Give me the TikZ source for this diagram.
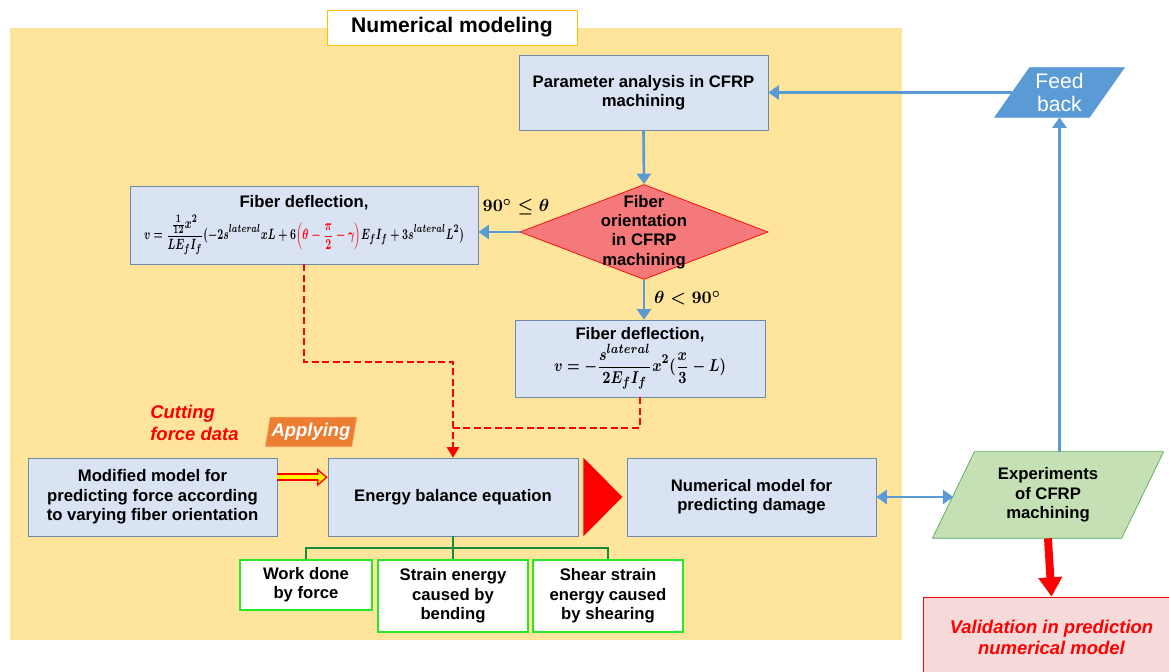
\documentclass[tikz,border=0pt]{standalone}
\usepackage{amsmath}
\usepackage[no-math]{fontspec}
\setmainfont{Liberation Sans}
\usetikzlibrary{arrows.meta,calc,shapes.geometric}

\definecolor{modelbg}{RGB}{255,229,155}
\definecolor{boxfill}{RGB}{218,227,243}
\definecolor{boxline}{RGB}{112,136,170}
\definecolor{flowblue}{RGB}{91,155,213}
\definecolor{gold}{RGB}{255,192,0}
\definecolor{diamfill}{RGB}{245,120,122}
\definecolor{expfill}{RGB}{197,224,180}
\definecolor{expline}{RGB}{84,170,90}
\definecolor{valfill}{RGB}{246,218,218}
\definecolor{applyfill}{RGB}{237,125,49}
\definecolor{applyline}{RGB}{246,178,120}
\definecolor{leafline}{RGB}{40,230,40}
\definecolor{treeline}{RGB}{20,140,60}

\newcommand{\leftformula}{{\boldmath\resizebox*{6.4cm}{0.8cm}{$\displaystyle v = \frac{\frac{1}{12}x^2}{LE_fI_f}(-2s^{lateral}xL + 6{\color{red}\left(\theta - \frac{\pi}{2} - \gamma\right)}E_fI_f + 3s^{lateral}L^2)$}}}
\newcommand{\rightformula}{{\boldmath\resizebox*{3.44cm}{0.9cm}{$\displaystyle v = -\frac{s^{lateral}}{2E_fI_f}x^2(\frac{x}{3} - L)$}}}

\begin{document}
\begin{tikzpicture}[font = \fontsize{9.5}{11}\selectfont\bfseries,
        box/.style = {draw = boxline, fill = boxfill, align = center, minimum width = 4.98cm, minimum height = 1.56cm, inner sep = 2pt},
        leaf/.style = {draw = leafline, line width = 1pt, fill = white, align = center, inner sep = 1pt},
        flow/.style = {flowblue, line width = 1.5pt, -{Triangle[length = 6pt, width = 8pt]}},
        dashline/.style = {red, line width = 1pt, dash pattern = on 4pt off 2pt}]
        \useasboundingbox (0,0) rectangle (23.38,13.42);
        \clip (0,0) rectangle (23.38,13.42);

        \fill [modelbg] (0.2,0.62) rectangle (18.04,12.86);
        \node [draw = gold, fill = white, minimum width = 5cm, minimum height = 0.7cm, font = \fontsize{12}{14}\selectfont\bfseries] (title) at (9.04,12.87) {Numerical modeling};

        \node [box, minimum height = 1.5cm] (param) at (12.87,11.57) {Parameter analysis in CFRP\\machining};

        \node [minimum width = 1.88cm, minimum height = 0.98cm, inner sep = 0pt] (feedback) at (21.19,11.57) {};
        \filldraw [fill = flowblue, draw = flowblue] ([xshift = -0.35cm]feedback.south west) -- ([xshift = 0.35cm]feedback.north west) -- ([xshift = 0.35cm]feedback.north east) -- ([xshift = -0.35cm]feedback.south east) -- cycle;
        \node [text = white, align = center, font = \fontsize{12}{13.5}\selectfont] at (feedback) {Feed\\back};

        \node [diamond, draw = red, fill = diamfill, minimum width = 4.96cm, minimum height = 1.9cm, inner sep = 0pt] (orient) at (12.88,8.78) {};
        \node [align = center] at (orient) {Fiber\\orientation\\in CFRP\\machining};

        \node [box, minimum width = 6.96cm, inner sep = 1pt] (leftdef) at (6.08,8.92) {Fiber deflection,\\[2pt]\leftformula};
        \node [box, minimum width = 5cm, minimum height = 1.54cm, inner sep = 1pt] (rightdef) at (12.8,6.25) {Fiber deflection,\\\rightformula};

        \node [font = \fontsize{10}{12}\selectfont] (lblge) at (10.32,9.28) {{\boldmath$90^\circ \leq \theta$}};
        \node [font = \fontsize{10}{12}\selectfont] (lbllt) at (13.75,7.46) {{\boldmath$\theta < 90^\circ$}};

        \node [text = red, align = left, anchor = west, inner sep = 0pt, font = \fontsize{10.5}{12.4}\selectfont\bfseries\itshape] (cutting) at (3.0,4.96) {Cutting\\force data};
        \node [minimum width = 1.72cm, minimum height = 0.58cm, inner sep = 0pt] (apply) at (6.22,4.78) {};
        \filldraw [fill = applyfill, draw = applyline] ([xshift = -0.05cm]apply.south west) -- ([xshift = 0.05cm]apply.north west) -- ([xshift = 0.05cm]apply.north east) -- ([xshift = -0.05cm]apply.south east) -- cycle;
        \node [text = white, font = \fontsize{10.5}{12}\selectfont\bfseries\itshape] at (apply) {Applying};

        \node [box] (modified) at (3.05,3.48) {Modified model for\\predicting force according\\to varying fiber orientation};
        \node [box, minimum width = 5cm] (energy) at (9.06,3.48) {Energy balance equation};
        \node [box] (numerical) at (15.03,3.48) {Numerical model for\\predicting damage};

        \node [minimum width = 3.77cm, minimum height = 1.72cm, inner sep = 0pt] (experiments) at (20.96,3.52) {};
        \filldraw [fill = expfill, draw = expline] ([xshift = -0.42cm]experiments.south west) -- ([xshift = 0.42cm]experiments.north west) -- ([xshift = 0.42cm]experiments.north east) -- ([xshift = -0.42cm]experiments.south east) -- cycle;
        \node [align = center] at (experiments) {Experiments\\of CFRP\\machining};

        \node [draw = red, fill = valfill, minimum width = 5.14cm, minimum height = 1.6cm, align = center, text = red, font = \fontsize{10.5}{12}\selectfont\bfseries\itshape] (valid) at (21.03,0.68) {Validation in prediction\\numerical model};

        \node [leaf, minimum width = 2.64cm, minimum height = 1cm] (work) at (6.12,1.72) {Work done\\by force};
        \node [leaf, minimum width = 3cm, minimum height = 1.44cm] (strain) at (9.06,1.5) {Strain energy\\caused by\\bending};
        \node [leaf, minimum width = 3cm, minimum height = 1.44cm] (shear) at (12.16,1.5) {Shear strain\\energy caused\\by shearing};

        \coordinate (split) at (9.06,2.46);
        \draw [treeline, line width = 1pt] (energy.south) -- (strain.north);
        \draw [treeline, line width = 1pt] (work.north) |- (split) -| (shear.north);

        \draw [flow] (feedback.west) -- (param.east);
        \draw [flow] (feedback.south |- experiments.north) -- (feedback.south);
        \draw [flow] (param.south) -- (orient.north);
        \draw [flow] (orient.west) -- (orient.west -| leftdef.east);
        \draw [flow] (orient.south) -- (orient.south |- rightdef.north);
        \draw [flowblue, line width = 1.5pt, {Triangle[length = 6pt, width = 8pt]}-{Triangle[length = 6pt, width = 8pt]}] (numerical.east) -- (numerical.east -| experiments.west);
        \draw [red, line width = 4.5pt, -{Triangle[length = 11pt, width = 13pt]}] (experiments.south) -- (valid.north);

        \coordinate (leftbend) at (9.06,6.18);
        \coordinate (rightbend) at (9.06,4.86);
        \draw [dashline, -{Triangle[length = 6pt, width = 7pt]}] (leftdef.south) |- (leftbend) -- (energy.north);
        \draw [dashline] (rightdef.south) |- (rightbend);

        \draw [red, line width = 4.5pt, -{Triangle[length = 6pt, width = 10pt]}] ($(modified.north east)!0.25!(modified.south east)$) -- ($(energy.north west)!0.25!(energy.south west)$);
        \draw [yellow, line width = 2.2pt, shorten > = 1.3pt, -{Triangle[length = 4pt, width = 6.5pt]}] ($(modified.north east)!0.25!(modified.south east)$) -- ($(energy.north west)!0.25!(energy.south west)$);

        \fill [red] ([xshift = 0.1cm]energy.north east) -- ([xshift = 0.88cm]energy.east) -- ([xshift = 0.1cm]energy.south east) -- cycle;
    \end{tikzpicture}
\end{document}
